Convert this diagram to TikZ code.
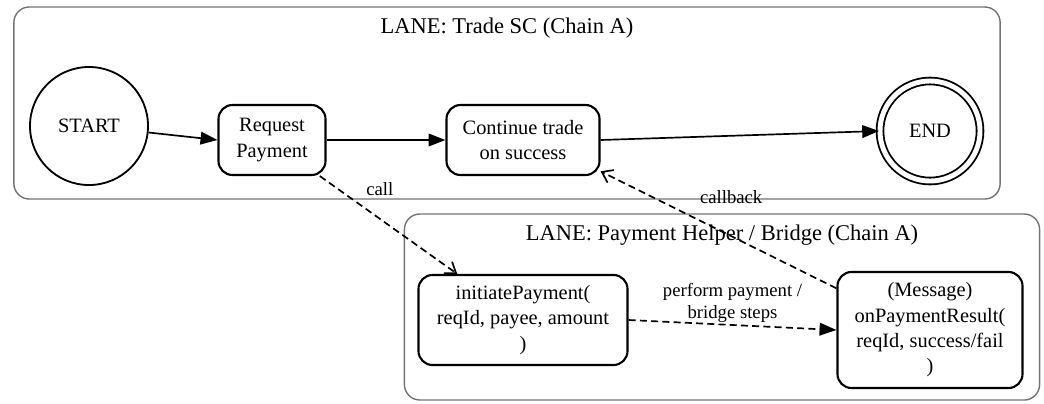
\documentclass[tikz,border=0pt]{standalone}
\usepackage{fontspec}
\setmainfont{Liberation Serif}
\usetikzlibrary{positioning,arrows.meta}

\begin{document}
\begin{tikzpicture}[x=0.025cm,y=-0.025cm,
  every node/.style={font=\fontsize{14.5}{18}\selectfont,align=center},
  lane/.style={draw=black!55,line width=1pt,rounded corners=11pt,inner sep=0pt},
  lanetitle/.style={font=\fontsize{16}{19}\selectfont,inner sep=0pt},
  state/.style={draw,line width=1.5pt,rounded corners=10pt,inner sep=0pt},
  term/.style={draw,circle,line width=1.3pt,inner sep=0pt},
  flow/.style={line width=1.2pt,-{Triangle[length=12pt,width=9pt]}},
  msg/.style={line width=1.2pt,dash pattern=on 5pt off 3pt,-{Straight Barb[length=7pt,width=10pt]}},
  tag/.style={font=\fontsize{13.3}{15.5}\selectfont,inner sep=1pt}
]
\useasboundingbox (0,0) rectangle (1044,403);

% lanes
\node[lane,minimum width=24.65cm,minimum height=4.8cm] (laneA) at (507,103) {};
\node[lanetitle,below=8pt of laneA.north] (titleA) {LANE: Trade SC (Chain A)};
\node[lane,minimum width=15.875cm,minimum height=4.65cm] (laneB) at (722,307) {};
\node[lanetitle,below=8pt of laneB.north] (titleB) {LANE: Payment Helper / Bridge (Chain A)};

% states
\node[term,minimum size=2.95cm] (start) at (89,126) {START};
\node[state,minimum width=2.675cm,minimum height=1.75cm] (req) at (272,140) {Request\\Payment};
\node[state,minimum width=3.825cm,minimum height=1.75cm] (cont) at (523,140) {Continue trade\\on success};
\node[term,double,double distance=3.5pt,minimum size=2.5cm] (end) at (930,131) {END};
\node[state,minimum width=5.225cm,minimum height=2.25cm] (init) at (523,320) {initiatePayment(\\reqId, payee, amount\\)};
\node[state,minimum width=4.625cm,minimum height=2.9cm] (res) at (930,330) {(Message)\\onPaymentResult(\\reqId, success/fail\\)};

% connectors
\draw[flow] (start) -- (req.west);
\draw[flow] (req) -- (cont);
\draw[flow] (cont.east) -- (end.west);
\draw[msg] (req.-37) -- node[tag,pos=0.15,xshift=28pt,yshift=1.5pt] {call} (init.145);
\draw[flow,dash pattern=on 5pt off 3pt] (init.east) -- node[tag,pos=0.5,above] {perform payment /\\bridge steps} (res.west);
\draw[msg] (res.156) -- node[tag,pos=0.5,xshift=9pt,yshift=23pt] {callback} (cont.-22);
\end{tikzpicture}
\end{document}
